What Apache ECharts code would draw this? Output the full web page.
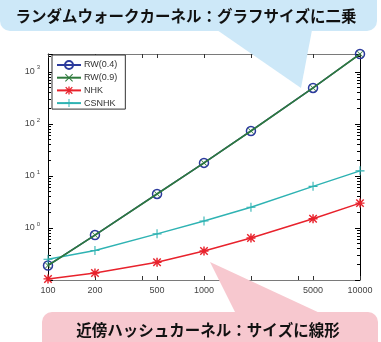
<!DOCTYPE html>
<html><head><meta charset="utf-8">
<script src="https://cdn.jsdelivr.net/npm/echarts@6/dist/echarts.min.js"></script>
<style>html,body{margin:0;padding:0;background:#fff}#c{width:381px;height:342px}</style>
</head><body><div id="c"></div>
<script>
const xValues = [100, 200, 500, 1000, 2000, 5000, 10000];
const rw04 = [0.19, 0.73, 4.5, 17.8, 73, 490, 2200];
const rw09 = [0.19, 0.73, 4.5, 17.8, 73, 490, 2200];
const nhk = [0.105, 0.136, 0.22, 0.36, 0.64, 1.5, 3.0];
const csnhk = [0.25, 0.37, 0.77, 1.36, 2.5, 6.3, 12.5];
const xLabels = [100, 200, 500, 1000, 5000, 10000];
const xTicks = [100, 200, 400, 500, 1000, 2000, 4000, 5000, 10000];
const yLabels = [1, 10, 100, 1000];
const titleTop = 'ランダムウォークカーネル：グラフサイズに二乗';
const titleBottom = '近傍ハッシュカーネル：サイズに線形';

const pair = arr => arr.map((v, i) => [xValues[i], v]);
const PLUS = 'path://M4.4,0h1.2v4.4h4.4v1.2h-4.4v4.4h-1.2v-4.4h-4.4v-1.2h4.4z';
const CROSS = 'path://M0,0.9L0.9,0L10,9.1L9.1,10Z M9.1,0L10,0.9L0.9,10L0,9.1Z';
const STAR = 'path://M4.2,0h1.6v4.2h4.2v1.6h-4.2v4.2h-1.6v-4.2h-4.2v-1.6h4.2z M0.3,1.4L1.4,0.3L9.7,8.6L8.6,9.7Z M8.6,0.3L9.7,1.4L1.4,9.7L0.3,8.6Z';

const chart = echarts.init(document.getElementById('c'), null, {renderer: 'canvas'});
const lblFont = 'Liberation Sans';
const yAxisBase = {
  type: 'log', logBase: 10, min: 0.1, max: 2200,
  splitLine: {show: false},
  axisLine: {show: true, onZero: false, lineStyle: {color: '#000', width: 1}},
  axisTick: {show: true, inside: true, length: 5, lineStyle: {color: '#000'}},
  minorTick: {show: true, splitNumber: 9, length: 3, lineStyle: {color: '#000'}}
};
const xAxisBase = {
  type: 'log', logBase: 10, min: 100, max: 10000,
  splitLine: {show: false},
  axisLine: {show: true, onZero: false, lineStyle: {color: '#7a7a7a', width: 1}},
  axisTick: {show: true, inside: true, length: 4, customValues: xTicks, lineStyle: {color: '#333'}},
  minorTick: {show: false}
};
chart.setOption({
  animation: false,
  backgroundColor: '#fff',
  grid: {left: 48, right: 21, top: 54, bottom: 62, containLabel: false},
  legend: {
    orient: 'vertical', left: 52, top: 55,
    backgroundColor: '#fff', borderColor: '#333', borderWidth: 1, borderRadius: 0,
    padding: [5, 8, 1, 4], itemWidth: 24, itemHeight: 10, itemGap: 2.7,
    textStyle: {fontSize: 9, lineHeight: 10, color: '#333', fontFamily: lblFont, padding: [0, 0, 0, -2]},
    data: ['RW(0.4)', 'RW(0.9)', 'NHK', 'CSNHK']
  },
  xAxis: [
    Object.assign({}, xAxisBase, {
      position: 'bottom',
      axisLabel: {show: true, customValues: xLabels, formatter: v => String(Math.round(v)), fontSize: 9, color: '#444', fontFamily: lblFont, margin: 6}
    }),
    Object.assign({}, xAxisBase, {position: 'top', axisLabel: {show: false}})
  ],
  yAxis: [
    Object.assign({}, yAxisBase, {
      position: 'left',
      axisLabel: {
        show: true, customValues: yLabels, margin: 8,
        formatter: v => '{b|10}{s|' + Math.round(Math.log10(v)) + '}',
        rich: {
          b: {fontSize: 9, color: '#444', fontFamily: lblFont},
          s: {fontSize: 6, color: '#444', fontFamily: lblFont, padding: [0, 0, 8, 2]}
        }
      }
    }),
    Object.assign({}, yAxisBase, {position: 'right', axisLabel: {show: false}})
  ],
  series: [
    {name: 'RW(0.4)', type: 'line', data: pair(rw04), symbol: 'circle', symbolSize: 9,
     lineStyle: {color: '#2b3a9c', width: 1.5},
     itemStyle: {color: 'rgba(255,255,255,0)', borderColor: '#2b3a9c', borderWidth: 1.5}, z: 2},
    {name: 'RW(0.9)', type: 'line', data: pair(rw09), symbol: CROSS, symbolSize: 6,
     lineStyle: {color: '#2e7a3c', width: 1.6},
     itemStyle: {color: '#2e7a3c'}, z: 3},
    {name: 'NHK', type: 'line', data: pair(nhk), symbol: STAR, symbolSize: 9,
     lineStyle: {color: '#e8222c', width: 1.5},
     itemStyle: {color: '#e8222c'}, z: 2},
    {name: 'CSNHK', type: 'line', data: pair(csnhk), symbol: PLUS, symbolSize: 9,
     lineStyle: {color: '#2fb3b3', width: 1.5},
     itemStyle: {color: '#2fb3b3'}, z: 2}
  ],
  graphic: [
    {type: 'rect', z: 100, shape: {x: 0, y: -12, width: 377, height: 43, r: 10}, style: {fill: '#cde8f8'}},
    {type: 'polygon', z: 100, shape: {points: [[217, 30], [312, 30], [301, 88]]}, style: {fill: '#cde8f8'}},
    {type: 'text', z: 101, x: 186, y: 16, style: {text: titleTop, font: 'bold 15.5px "Noto Sans CJK JP"', fill: '#111', align: 'center', verticalAlign: 'middle'}},
    {type: 'polygon', z: 100, shape: {points: [[210, 262], [236, 314], [322, 314]]}, style: {fill: '#f7c8cf'}},
    {type: 'rect', z: 100, shape: {x: 42, y: 312, width: 336, height: 42, r: 10}, style: {fill: '#f7c8cf'}},
    {type: 'text', z: 101, x: 208, y: 330, style: {text: titleBottom, font: 'bold 15.5px "Noto Sans CJK JP"', fill: '#111', align: 'center', verticalAlign: 'middle'}}
  ]
});
</script></body></html>
